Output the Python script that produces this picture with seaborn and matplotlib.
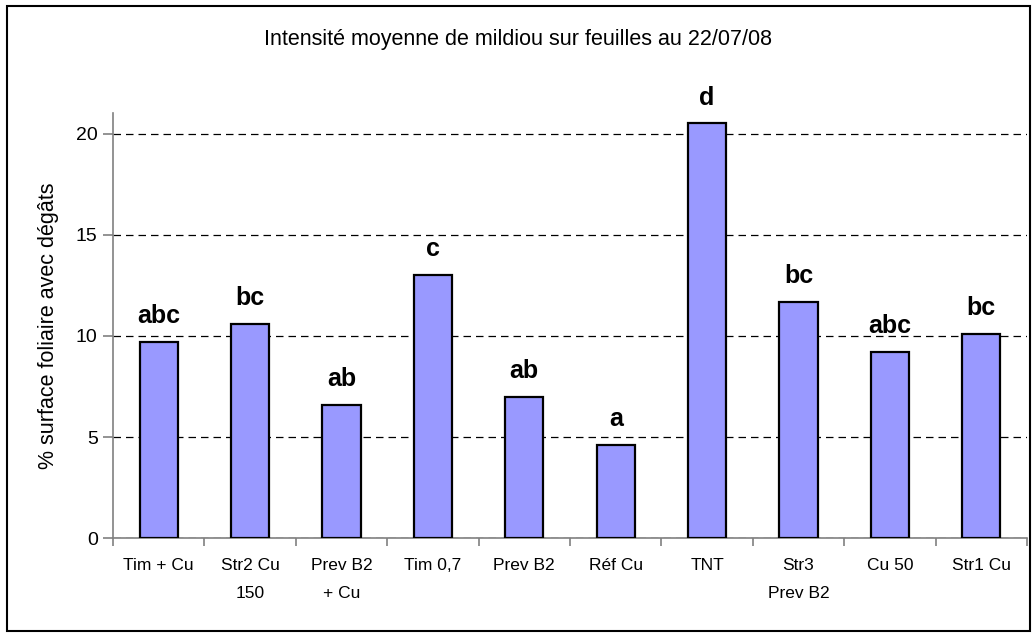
import matplotlib
matplotlib.use("Agg")
import matplotlib.pyplot as plt
from matplotlib.patches import Rectangle
from matplotlib.ticker import FixedLocator
import seaborn as sns
import pandas as pd
import numpy as np

categories = ["Tim + Cu", "Str2 Cu\n150", "Prev B2\n+ Cu", "Tim 0,7", "Prev B2",
              "Réf Cu", "TNT", "Str3\nPrev B2", "Cu 50", "Str1 Cu"]
values = [9.7, 10.6, 6.6, 13.0, 7.0, 4.6, 20.5, 11.7, 9.2, 10.1]
letters = ["abc", "bc", "ab", "c", "ab", "a", "d", "bc", "abc", "bc"]
title = "Intensité moyenne de mildiou sur feuilles au 22/07/08"
ylabel = "% surface foliaire avec dégâts"
yticks = [0, 5, 10, 15, 20]

sns.set_style("white")
plt.rcParams['font.family'] = ['Liberation Sans', 'DejaVu Sans']
plt.rcParams['text.color'] = 'black'
plt.rcParams['axes.labelcolor'] = 'black'
plt.rcParams['xtick.color'] = 'black'
plt.rcParams['ytick.color'] = 'black'

df = pd.DataFrame({"cat": categories, "val": values})

fig = plt.figure(figsize=(10.35, 6.35), dpi=100)
ax = fig.add_axes([113 / 1035, 1 - 538.3 / 635, (1027 - 113) / 1035, (538.3 - 113.3) / 635])

sns.barplot(data=df, x="cat", y="val", ax=ax, color="#9999FF", saturation=1,
            width=0.42, edgecolor="black", linewidth=1.6, zorder=3)

ax.set_ylim(0, 21)
ax.set_xlim(-0.5, len(categories) - 0.5)
ax.yaxis.set_major_locator(FixedLocator(yticks))
ax.grid(axis="y", color="black", linestyle=(0, (6, 4)), linewidth=0.9, zorder=0)
ax.grid(axis="x", visible=False)
ax.set_axisbelow(True)

for s in ["top", "right"]:
    ax.spines[s].set_visible(False)
for s in ["left", "bottom"]:
    ax.spines[s].set_color("#808080")
    ax.spines[s].set_linewidth(1.2)

ax.tick_params(axis="y", which="major", left=True, length=7, width=1.2, color="#808080",
               labelcolor="black", labelsize=14, pad=4)
ax.tick_params(axis="x", which="major", bottom=False, length=0, labelsize=12.5,
               labelcolor="black", pad=14)
ax.xaxis.set_minor_locator(FixedLocator(np.arange(-0.5, len(categories), 1.0)))
ax.tick_params(axis="x", which="minor", bottom=True, length=6, width=1.2, color="#808080")
for lbl in ax.get_xticklabels():
    lbl.set_linespacing(2.1)
    lbl.set_verticalalignment("top")

ax.set_xlabel("")
ax.set_ylabel(ylabel, fontsize=15.5, labelpad=12)

for i, (v, t) in enumerate(zip(values, letters)):
    ax.annotate(t, (i, v), xytext=(0, 10), textcoords="offset points",
                ha="center", va="bottom", fontsize=18, fontweight="bold")

fig.text(0.5, 1 - 40 / 635, title, ha="center", va="center", fontsize=15.5)

fig.patches.append(Rectangle((7 / 1035, 1 - 631 / 635), (1030 - 7) / 1035, (631 - 6) / 635,
                             transform=fig.transFigure, fill=False, edgecolor="black",
                             linewidth=1.5, zorder=10))

fig.savefig("out.png", dpi=100)
